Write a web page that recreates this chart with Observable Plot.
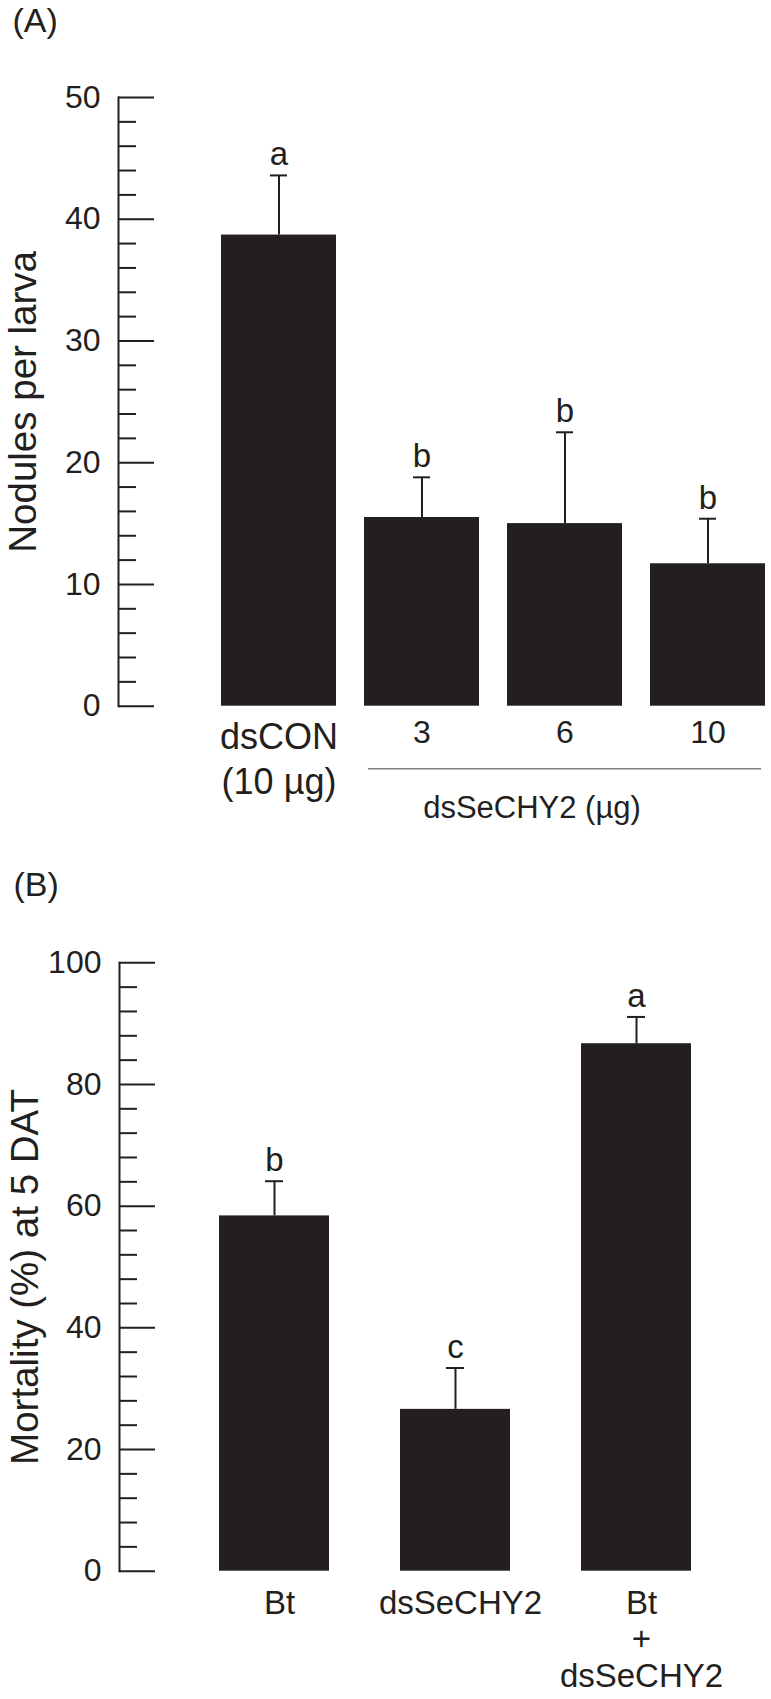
<!DOCTYPE html>
<html><head><meta charset="utf-8">
<script src="https://cdn.jsdelivr.net/npm/d3@7"></script>
<script src="https://cdn.jsdelivr.net/npm/@observablehq/plot@0.6"></script>
<style>
body{margin:0;background:#fff;}
#wrap{position:relative;width:771px;height:1699px;overflow:hidden;}
#a,#b{position:absolute;left:0;}
#a{top:0px;} #b{top:850px;}
svg{font-family:"Liberation Sans",Arial,sans-serif;}
</style></head><body><div id="wrap"><div id="a"></div><div id="b"></div></div>
<script>
// ---------- Panel A data ----------
const catsA = ["dsCON", "3", "6", "10"];
const labelsA = ["dsCON\n(10 µg)", "3", "6", "10"];
const meansA = [38.7, 15.5, 15.0, 11.7];
const errsA = [4.9, 3.3, 7.5, 3.7];
const lettersA = ["a", "b", "b", "b"];
const groupLabelA = "dsSeCHY2 (µg)";
const yLabelA = "Nodules per larva";
const yMajorA = [0, 10, 20, 30, 40, 50];
const yMinorA = [2, 4, 6, 8, 12, 14, 16, 18, 22, 24, 26, 28, 32, 34, 36, 38, 42, 44, 46, 48];

// ---------- Panel B data ----------
const catsB = ["Bt", "dsSeCHY2", "Bt+dsSeCHY2"];
const labelsB = ["Bt", "dsSeCHY2", "Bt\n+\ndsSeCHY2"];
const meansB = [58.4, 26.6, 86.7];
const errsB = [5.7, 6.8, 4.4];
const lettersB = ["b", "c", "a"];
const yLabelB = "Mortality (%) at 5 DAT";
const yMajorB = [0, 20, 40, 60, 80, 100];
const yMinorB = [4, 8, 12, 16, 24, 28, 32, 36, 44, 48, 52, 56, 64, 68, 72, 76, 84, 88, 92, 96];

const INK = "#231f20";
const FONT = "'Liberation Sans', Arial, sans-serif";

const dataA = catsA.map((c, i) => ({cat: c, label: labelsA[i], mean: meansA[i], top: meansA[i] + errsA[i], letter: lettersA[i]}));
const dataB = catsB.map((c, i) => ({cat: c, label: labelsB[i], mean: meansB[i], top: meansB[i] + errsB[i], letter: lettersB[i]}));

function axisMarks(major, minor, fontSize) {
  return [
    Plot.frame({anchor: "left", stroke: INK, strokeWidth: 2}),
    Plot.axisY({ticks: major, tickSize: 36, dx: 36, fill: "none", stroke: INK, strokeWidth: 2, label: null}),
    Plot.axisY({ticks: minor, tickSize: 18, dx: 18, fill: "none", stroke: INK, strokeWidth: 2, label: null}),
    Plot.axisY({ticks: major, tickSize: 0, tickPadding: 18, stroke: "none", fill: INK, fontSize, label: null, tickFormat: d3.format("d")})
  ];
}

// ---------- Panel A ----------
const plotA = Plot.plot({
  width: 771, height: 850,
  marginTop: 97, marginBottom: 144.3, marginLeft: 118, marginRight: 0,
  style: {fontFamily: FONT, color: INK, background: "#fff", overflow: "visible"},
  x: {type: "band", domain: catsA, range: [219, 767], paddingInner: 0.194, paddingOuter: 0, axis: null},
  y: {domain: [0, 50]},
  marks: [
    ...axisMarks(yMajorA, yMinorA, 32),
    Plot.barY(dataA, {x: "cat", y: "mean", fill: INK}),
    Plot.ruleX(dataA, {x: "cat", y1: "mean", y2: "top", stroke: INK, strokeWidth: 2}),
    Plot.tickY(dataA, {x: "cat", y: "top", stroke: INK, strokeWidth: 2, inset: 49}),
    Plot.text(dataA, {x: "cat", y: "top", text: "letter", dy: -10, lineAnchor: "bottom", fontSize: 33, fill: INK}),
    Plot.text(dataA.slice(0, 1), {x: "cat", text: "label", frameAnchor: "bottom", lineAnchor: "top", dy: 11, lineHeight: 1.25, fontSize: 36, fill: INK}),
    Plot.text(dataA.slice(1), {x: "cat", text: "label", frameAnchor: "bottom", lineAnchor: "top", dy: 14, fontSize: 32, fill: INK}),
    Plot.ruleY([{y: 0, a: "3", b: "10"}], {y: "y", x1: "a", x2: "b", dy: 62.6, insetLeft: 4, insetRight: 4, stroke: "#808080", strokeWidth: 1.5}),
    Plot.text([{x: "6", t: groupLabelA}], {x: "x", text: "t", frameAnchor: "bottom", lineAnchor: "top", dx: -33, dy: 90, fontSize: 31, fill: INK}),
    Plot.text([yLabelA], {text: d => d, frameAnchor: "left", textAnchor: "middle", rotate: -90, dx: -83, lineAnchor: "bottom", fontSize: 38.5, fill: INK}),
    Plot.text(["(A)"], {text: d => d, frameAnchor: "top-left", textAnchor: "start", lineAnchor: "bottom", dx: -106, dy: -66, fontSize: 34, fill: INK})
  ]
});
document.getElementById("a").append(plotA);

// ---------- Panel B ----------
const plotB = Plot.plot({
  width: 771, height: 849,
  marginTop: 112.3, marginBottom: 128.3, marginLeft: 119, marginRight: 0,
  style: {fontFamily: FONT, color: INK, background: "#fff", overflow: "visible"},
  x: {type: "band", domain: catsB, range: [218.8, 691.7], paddingInner: 0.394, paddingOuter: 0, axis: null},
  y: {domain: [0, 100]},
  marks: [
    ...axisMarks(yMajorB, yMinorB, 32),
    Plot.barY(dataB, {x: "cat", y: "mean", fill: INK}),
    Plot.ruleX(dataB, {x: "cat", y1: "mean", y2: "top", stroke: INK, strokeWidth: 2}),
    Plot.tickY(dataB, {x: "cat", y: "top", stroke: INK, strokeWidth: 2, inset: 46}),
    Plot.text(dataB, {x: "cat", y: "top", text: "letter", dy: -10, lineAnchor: "bottom", fontSize: 33, fill: INK}),
    Plot.text(dataB, {x: "cat", text: "label", frameAnchor: "bottom", lineAnchor: "top", dy: 17, dx: 5, lineHeight: 1.1, fontSize: 33, fill: INK}),
    Plot.text([yLabelB], {text: d => d, frameAnchor: "left", textAnchor: "middle", rotate: -90, dx: -82, dy: 10, lineAnchor: "bottom", fontSize: 38.5, fill: INK}),
    Plot.text(["(B)"], {text: d => d, frameAnchor: "top-left", textAnchor: "start", lineAnchor: "bottom", dx: -106, dy: -67, fontSize: 34, fill: INK})
  ]
});
document.getElementById("b").append(plotB);
</script>
</body></html>
